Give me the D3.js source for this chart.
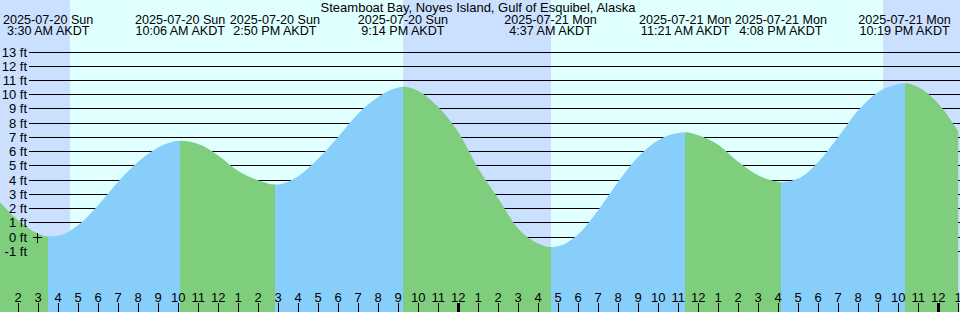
<!DOCTYPE html>
<html>
<head>
<meta charset="utf-8">
<script src="https://cdn.jsdelivr.net/npm/d3@7"></script>
<style>
  body { margin: 0; background: #fff; }
  svg { display: block; font-family: "Liberation Sans", Arial, sans-serif; font-size: 13px; }
  .event text { font-size: 12.6px; }
</style>
</head>
<body>
<svg id="chart" width="960" height="312"></svg>
<script>
// hours since 2025-07-20 00:00 AKDT, heights in ft
var sampleHours = [1, 2, 3, 3.5, 4, 5, 6, 7, 8, 9, 10.1, 11, 12, 13, 14, 14.833, 15, 16, 17, 18, 19, 20, 21, 21.233,
  22, 23, 24, 25, 26, 27, 28, 28.617, 29, 30, 31, 32, 33, 34, 35, 35.35, 36, 37, 38, 39, 40, 40.133, 41, 42, 43, 44,
  45, 46, 46.317, 47, 48, 49];
var sampleFeet = [2.55, 1.15, 0.2, 0.0, 0.05, 0.8, 2.2, 3.85, 5.25, 6.25, 6.72, 6.5, 5.7, 4.6, 3.95, 3.65, 3.66, 4.24,
  5.48, 7.0, 8.64, 9.81, 10.47, 10.52, 10.23, 9.1, 7.35, 4.8, 2.67, 0.56, -0.49, -0.73, -0.68, 0.16, 1.85, 3.84, 5.6,
  6.77, 7.28, 7.33, 7.12, 6.45, 5.25, 4.3, 3.84, 3.82, 4.07, 5.24, 7.0, 8.87, 10.16, 10.7, 10.77, 10.51, 9.35, 7.4];

// high / low tide events
var eventHours = [3.5, 10.1, 14.833, 21.233, 28.617, 35.35, 40.133, 46.317];
var eventTypes = ["low", "high", "low", "high", "low", "high", "low", "high"];
var eventDates = ["2025-07-20 Sun", "2025-07-20 Sun", "2025-07-20 Sun", "2025-07-20 Sun",
  "2025-07-21 Mon", "2025-07-21 Mon", "2025-07-21 Mon", "2025-07-21 Mon"];
var eventTimes = ["3:30 AM AKDT", "10:06 AM AKDT", "2:50 PM AKDT", "9:14 PM AKDT",
  "4:37 AM AKDT", "11:21 AM AKDT", "4:08 PM AKDT", "10:19 PM AKDT"];

// night spans (sunset -> sunrise)
var nightStart = [-2, 21.25, 45.25];
var nightEnd = [4.59, 28.64, 50];

var feetTicks = d3.range(-1, 14);
var hourTicks = d3.range(2, 50);
var title = "Steamboat Bay, Noyes Island, Gulf of Esquibel, Alaska";

var W = 960, H = 312;
var svg = d3.select("#chart");

var x = d3.scaleLinear().domain([0, 48]).range([-21.8, -21.8 + 960]);
var y = d3.scaleLinear().domain([0, 13]).range([236.5, 51.5]);

var points = sampleHours.map(function(t, i) { return { t: t, h: sampleFeet[i] }; });

// day / night background
svg.append("rect").attr("width", W).attr("height", H).attr("fill", "#e0ffff");
svg.selectAll("rect.night").data(nightStart)
  .enter().append("rect")
  .classed("night", true)
  .attr("x", function(d) { return x(d); })
  .attr("y", 0)
  .attr("width", function(d, i) { return x(nightEnd[i]) - x(d); })
  .attr("height", H)
  .attr("fill", "#cbdfff");

// ft grid
svg.selectAll("line.grid").data(feetTicks)
  .enter().append("line")
  .classed("grid", true)
  .attr("x1", 29).attr("x2", W)
  .attr("y1", function(d) { return Math.round(y(d)) + 0.5; })
  .attr("y2", function(d) { return Math.round(y(d)) + 0.5; })
  .attr("stroke", "#000")
  .attr("shape-rendering", "crispEdges");

// tide area, coloured rising (blue) / falling (green)
var area = d3.area()
  .x(function(d) { return x(d.t); })
  .y0(H)
  .y1(function(d) { return y(d.h); })
  .curve(d3.curveMonotoneX);

svg.append("clipPath").attr("id", "tide")
  .append("path").attr("d", area(points));

var bounds = [-2].concat(eventHours).concat([50]);
var segs = d3.range(bounds.length - 1).map(function(i) {
  var rising = i > 0 ? eventTypes[i - 1] === "low" : eventTypes[0] === "high";
  return { a: bounds[i], b: bounds[i + 1], rising: rising };
});

svg.append("g").attr("clip-path", "url(#tide)")
  .selectAll("rect").data(segs)
  .enter().append("rect")
  .attr("x", function(d) { return x(d.a); })
  .attr("y", 0)
  .attr("width", function(d) { return x(d.b) - x(d.a); })
  .attr("height", H)
  .attr("fill", function(d) { return d.rising ? "#87cefa" : "#7ece7e"; })
  .attr("shape-rendering", "crispEdges");

// ft labels sit on top of the fill
svg.selectAll("text.ft").data(feetTicks)
  .enter().append("text")
  .classed("ft", true)
  .attr("x", 27)
  .attr("y", function(d) { return Math.round(y(d)) + 5; })
  .attr("text-anchor", "end")
  .text(function(d) { return d + " ft"; });

// little datum mark at 0 ft
var mark = svg.append("g").attr("stroke", "#000").attr("shape-rendering", "crispEdges");
mark.append("line").attr("x1", 33).attr("x2", 42)
  .attr("y1", Math.round(y(0)) + 0.5).attr("y2", Math.round(y(0)) + 0.5);
mark.append("line").attr("x1", 37.5).attr("x2", 37.5)
  .attr("y1", Math.round(y(0)) - 4).attr("y2", Math.round(y(0)) + 6);

// header
svg.append("text").attr("x", 478).attr("y", 12).attr("text-anchor", "middle").text(title);

var lbl = svg.selectAll("g.event").data(eventHours)
  .enter().append("g")
  .classed("event", true)
  .attr("transform", function(d) { return "translate(" + x(d) + ",0)"; })
  .attr("text-anchor", "middle");
lbl.append("text").attr("y", 24).text(function(d, i) { return eventDates[i]; });
lbl.append("text").attr("y", 35).text(function(d, i) { return eventTimes[i]; });

// hour axis along the bottom
svg.selectAll("line.hour").data(hourTicks)
  .enter().append("line")
  .classed("hour", true)
  .attr("x1", function(d) { return Math.round(x(d)) + 0.5; })
  .attr("x2", function(d) { return Math.round(x(d)) + 0.5; })
  .attr("y1", 303).attr("y2", H)
  .attr("stroke", "#000")
  .attr("stroke-width", function(d) { return d % 24 === 0 ? 3 : 1; })
  .attr("shape-rendering", "crispEdges");

svg.selectAll("text.hour").data(hourTicks)
  .enter().append("text")
  .classed("hour", true)
  .attr("x", function(d) { return x(d); })
  .attr("y", 302)
  .attr("text-anchor", "middle")
  .text(function(d) { return (d % 12) || 12; });
</script>
</body>
</html>
